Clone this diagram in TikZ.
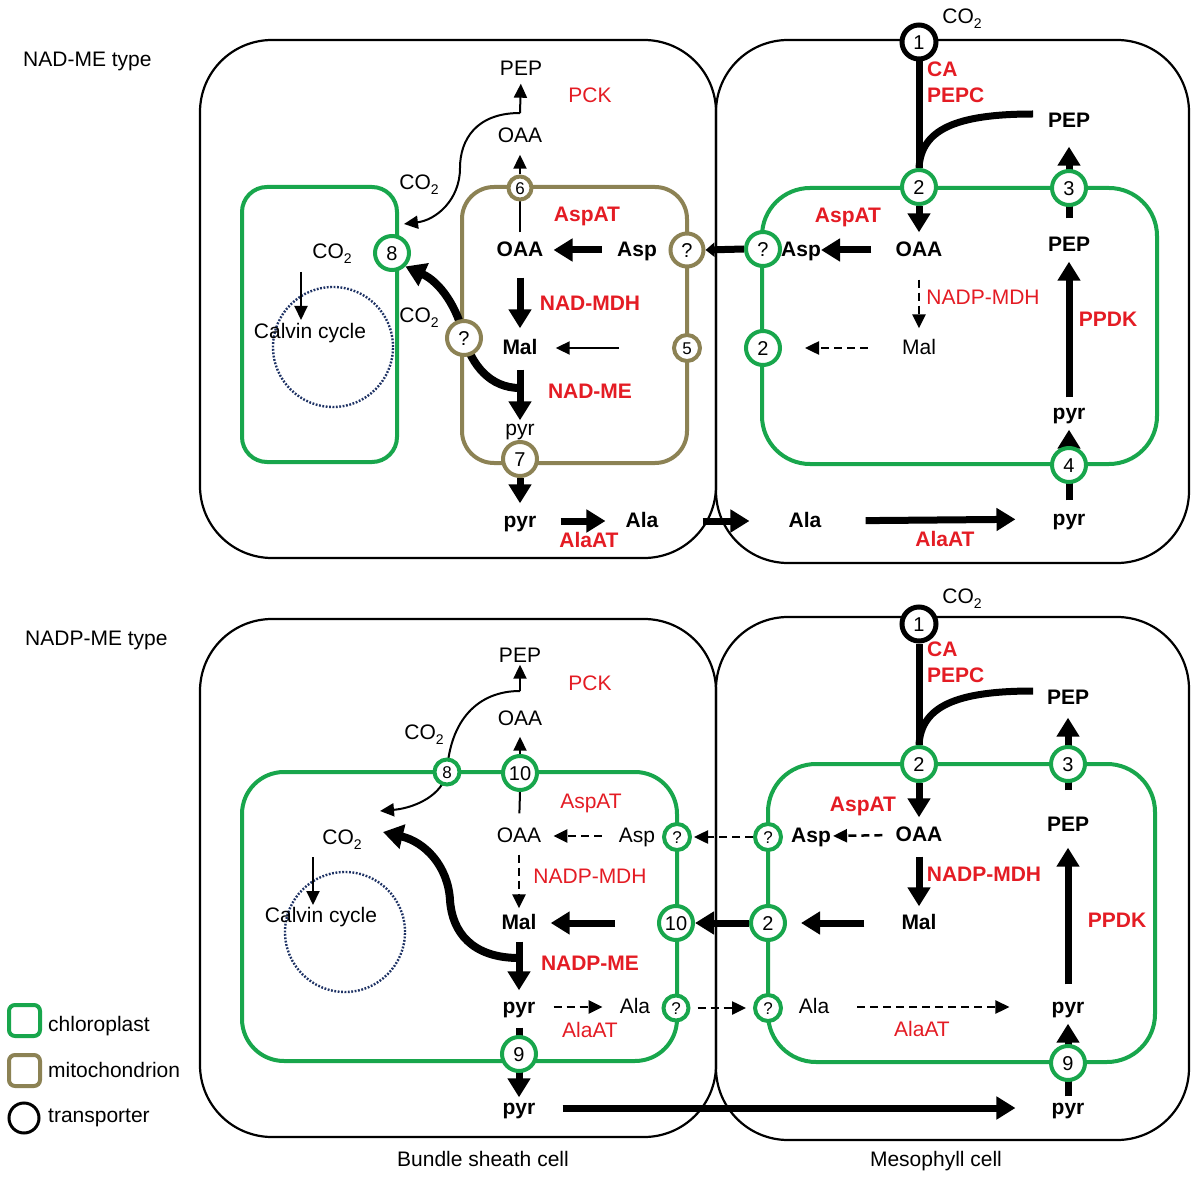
\documentclass[tikz,border=0pt]{standalone}
\usepackage{fontspec}
\setmainfont{Liberation Sans}
\usetikzlibrary{arrows.meta}
\pgfdeclarelayer{bg}
\pgfsetlayers{bg,main}
\definecolor{cgreen}{RGB}{24,166,76}
\definecolor{colive}{RGB}{140,130,84}
\definecolor{cred}{RGB}{228,28,36}
\definecolor{cnavy}{RGB}{30,50,100}
\newcommand{\cotwo}{CO\raisebox{-0.45ex}{\fontsize{14}{14}\selectfont 2}}
\begin{document}
\begin{tikzpicture}[x=1pt,y=-1pt,
  txt/.style={font=\fontsize{21}{24}\selectfont, inner sep=0pt, text height=15pt, text depth=2pt},
  bt/.style={txt, font=\fontsize{21}{24}\selectfont\bfseries},
  rb/.style={bt, text=cred},
  rn/.style={txt, text=cred},
  tr/.style={circle, fill=white, inner sep=0pt, line width=4pt, font=\fontsize{20}{20}\selectfont, text height=14.3pt, text depth=0pt, minimum size=34pt},
  trs/.style={font=\fontsize{17}{17}\selectfont, text height=12.2pt},
  tg/.style={tr, draw=cgreen},
  tol/.style={tr, draw=colive},
  tbk/.style={tr, draw=black, line width=5pt},
  cellb/.style={draw=black, line width=2.2pt, rounded corners=72pt},
  chl/.style={draw=cgreen, line width=4pt},
  mito/.style={draw=colive, line width=4pt},
  calvin/.style={draw=cnavy, line width=2.4pt, dash pattern=on 1.8pt off 1.6pt},
  tk/.style={line width=7pt, -{Triangle[length=19pt,width=22pt]}},
  tkc/.style={line width=8pt, -{Triangle[length=20pt,width=24pt]}},
  thn/.style={line width=2pt, -{Triangle[length=14pt,width=13pt]}},
  dsh/.style={line width=2.5pt, dash pattern=on 8pt off 5pt, -{Triangle[length=14pt,width=13pt]}},
  bar/.style={line width=7pt},
]
\useasboundingbox (0,0) rectangle (1200,1182);
% ---------------- transporters (top) ----------------
\node[tg] (a8) at (392,253) {8};
\node[tol, trs, minimum size=23pt] (a6) at (520,188) {6};
\node[tol, minimum size=33pt] (aq1) at (687,250) {?};
\node[tol, trs, minimum size=26pt] (a5) at (687,348) {5};
\node[tol] (a7) at (520,459) {7};
\node[tol] (aq2) at (464,338) {?};
\node[tbk] (a1) at (919,42) {1};
\node[tg] (a2) at (919,187) {2};
\node[tg] (a3) at (1069,188) {3};
\node[tg] (aq3) at (763,249) {?};
\node[tg] (a2L) at (763,348) {2};
\node[tg] (a4) at (1069,465) {4};
% ---------------- transporters (bottom) ----------------
\node[tg, trs, minimum size=25pt] (a8b) at (447,772) {8};
\node[tg] (a10t) at (520,773) {10};
\node[tg, trs, minimum size=26pt] (aqBa) at (677,837) {?};
\node[tg] (a10r) at (676,923) {10};
\node[tg, trs, minimum size=25pt] (aqBb) at (676,1008) {?};
\node[tg] (a9b) at (519,1054) {9};
\node[tbk] (a1b) at (919,624) {1};
\node[tg] (a2m2) at (919,764) {2};
\node[tg] (a3b) at (1068,764) {3};
\node[tg, trs, minimum size=26pt] (aqMa) at (768,837) {?};
\node[tg] (a2m3) at (768,923) {2};
\node[tg, trs, minimum size=26pt] (aqMb) at (768,1008) {?};
\node[tg] (a9m) at (1068,1063) {9};
% ---------------- texts (top) ----------------
\node[txt, anchor=west] (ttl1) at (23,60) {NAD-ME type};
\node[txt] (co2a) at (332,252) {\cotwo};
\node[txt] (calv1) at (310,332) {Calvin cycle};
\node[txt] (co2b) at (419,183) {\cotwo};
\node[txt] (co2c) at (419,316) {\cotwo};
\node[txt] (pepT) at (521,69) {PEP};
\node[rn] (pck1) at (590,96) {PCK};
\node[txt] (oaaT) at (520,136) {OAA};
\node[rb] (aspat1) at (587,215) {AspAT};
\node[bt] (oaaB) at (520,250) {OAA};
\node[bt] (aspB) at (637,250) {Asp};
\node[rb] (nadmdh) at (590,304) {NAD-MDH};
\node[bt] (malB) at (520,348) {Mal};
\node[rb] (nadme) at (590,392) {NAD-ME};
\node[txt] (pyrI) at (520,429) {pyr};
\node[bt] (pyrO) at (520,521) {pyr};
\node[bt] (alaBS) at (642,521) {Ala};
\node[rb] (alaat1) at (589,541) {AlaAT};
\node[txt] (co2d) at (962,17) {\cotwo};
\node[rb, anchor=west] (ca1) at (927,70) {CA};
\node[rb, anchor=west] (pepc1) at (927,96) {PEPC};
\node[bt] (pepM1) at (1069,121) {PEP};
\node[rb] (aspat2) at (848,216) {AspAT};
\node[bt] (oaaM) at (919,250) {OAA};
\node[bt] (aspM) at (801,250) {Asp};
\node[bt] (pepM2) at (1069,245) {PEP};
\node[rn] (nadpmdh1) at (983,298) {NADP-MDH};
\node[txt] (malM) at (919,348) {Mal};
\node[rb] (ppdk1) at (1108,320) {PPDK};
\node[bt] (pyrM1) at (1069,413) {pyr};
\node[bt] (pyrM2) at (1069,519) {pyr};
\node[bt] (alaMS) at (805,521) {Ala};
\node[rb] (alaat2) at (945,540) {AlaAT};
% ---------------- texts (bottom) ----------------
\node[txt, anchor=west] (ttl2) at (25,639) {NADP-ME type};
\node[txt] (pepB2) at (520,656) {PEP};
\node[rn] (pck2) at (590,684) {PCK};
\node[txt] (co2e) at (424,733) {\cotwo};
\node[txt] (oaaT2) at (520,719) {OAA};
\node[rn] (aspat3) at (591,802) {AspAT};
\node[txt] (co2f) at (342,838) {\cotwo};
\node[txt] (oaaB2) at (519,836) {OAA};
\node[txt] (aspB2) at (637,836) {Asp};
\node[rn] (nadpmdh2) at (590,877) {NADP-MDH};
\node[txt] (calv2) at (321,916) {Calvin cycle};
\node[bt] (malB2) at (519,923) {Mal};
\node[rb] (nadpme) at (590,964) {NADP-ME};
\node[bt] (pyrB) at (519,1007) {pyr};
\node[txt] (alaB2) at (635,1007) {Ala};
\node[rn] (alaat3) at (590,1031) {AlaAT};
\node[bt] (pyrB3) at (519,1108) {pyr};
\node[txt] (bslab) at (483,1160) {Bundle sheath cell};
\node[txt] (co2g) at (962,597) {\cotwo};
\node[rb, anchor=west] (ca2) at (927,650) {CA};
\node[rb, anchor=west] (pepc2) at (927,676) {PEPC};
\node[bt] (pepM3) at (1068,698) {PEP};
\node[rb] (aspat4) at (863,805) {AspAT};
\node[bt] (oaaM2) at (919,835) {OAA};
\node[bt] (aspM2) at (811,836) {Asp};
\node[bt] (pepM4) at (1068,825) {PEP};
\node[rb] (nadpmdh3) at (984,875) {NADP-MDH};
\node[bt] (malM2) at (919,923) {Mal};
\node[rb] (ppdk2) at (1117,921) {PPDK};
\node[txt] (alaM2) at (814,1007) {Ala};
\node[bt] (pyrM3) at (1068,1007) {pyr};
\node[rn] (alaat4) at (922,1030) {AlaAT};
\node[bt] (pyrM4) at (1068,1108) {pyr};
\node[txt] (mslab) at (936,1160) {Mesophyll cell};
% ---------------- legend ----------------
\node[txt, anchor=west] (lg1) at (48,1025) {chloroplast};
\node[txt, anchor=west] (lg2) at (48,1071) {mitochondrion};
\node[txt, anchor=west] (lg3) at (48,1116) {transporter};
\node[circle, draw=black, line width=3pt, minimum size=30pt, inner sep=0pt] (lg3c) at (24,1118) {};

\begin{pgfonlayer}{bg}
\fill[white] (0,0) rectangle (1200,1182);
% cells
\draw[cellb] (200,40) rectangle (716,558);
\draw[cellb] (716,40) rectangle (1189,563);
\draw[cellb] (200,619) rectangle (716,1137);
\draw[cellb] (716,617) rectangle (1189,1140);
% organelles
\draw[chl, rounded corners=25pt] (242,187) rectangle (397,462);
\draw[mito, rounded corners=32pt] (462,187) rectangle (687,463);
\draw[chl, rounded corners=48pt] (762,188) rectangle (1157,464);
\draw[calvin] (333,347) circle[radius=60pt];
\draw[chl, rounded corners=42pt] (242,772) rectangle (677,1061);
\draw[chl, rounded corners=48pt] (768,764) rectangle (1155,1062);
\draw[calvin] (345,932) circle[radius=60pt];
% legend glyphs
\draw[chl, rounded corners=6pt] (9,1005) rectangle (40,1036);
\draw[mito, rounded corners=6pt] (9,1055) rectangle (40,1086);

% ---- top BS connectors ----
\coordinate (jT) at (520,113);
\coordinate (ctip1) at (404,224);
\coordinate (ca0a) at (301,272);
\coordinate (ca0b) at (301,320);
\draw[thn] (ca0a) -- (ca0b);
\draw[thn, shorten >=6pt] (jT) -- (pepT.south);
\draw[thn] (jT) .. controls (476,113) and (460,140) .. (460,168) .. controls (460,200) and (436,220) .. (ctip1);
\draw[thn, shorten >=10pt] (a6.north) -- (oaaT.south);
\draw[line width=2pt, shorten <=9pt] (oaaB.north) -- (a6.south);
\draw[tk, shorten <=15pt, shorten >=10pt] (aspB.west) -- (oaaB.east);
\draw[tk, shorten <=19pt, shorten >=11pt] (oaaB.south) -- (malB.north);
\draw[thn, shorten <=53pt, shorten >=18pt] (a5.west) -- (malB.east);
\draw[tk, shorten <=13pt] (malB.south) -- (pyrI.north);
\coordinate (jM) at (520,388);
\draw[tkc] (jM) .. controls (490,388) and (472,365) .. (aq2.center) .. controls (458,308) and (440,282) .. (a8.south east);
\draw[tk, shorten >=9pt] (a7.south) -- (pyrO.north);
\draw[tk, shorten <=24pt, shorten >=20pt] (pyrO.east) -- (alaBS.west);
\draw[tk, shorten <=44pt, shorten >=39pt] (alaBS.east) -- (alaMS.west);
% ---- top MS connectors ----
\draw[bar] (a1) -- (a2);
\coordinate (pc1) at (1033,114);
\draw[bar] (pc1) .. controls (955,114) and (921,130) .. (a2.north);
\draw[tk, shorten >=9pt] (a2.south) -- (oaaM.north);
\draw[tk, shorten <=24pt] (oaaM.west) -- (aspM.east);
\draw[bar, -{Triangle[length=9pt,width=14pt]}] (aq3.west) -- (aq1.east);
\draw[dsh, shorten <=21pt, shorten >=11pt] (oaaM.south) -- (malM.north);
\draw[dsh, shorten <=34pt, shorten >=23pt] (malM.west) -- (a2L.east);
\draw[tk, shorten <=18pt, shorten >=17pt] (pepM2.north) -- (pepM1.south);
\draw[tk, shorten <=7pt, shorten >=8pt] (pyrM1.north) -- (pepM2.south);
\draw[tk, shorten <=10pt, shorten >=8pt] (pyrM2.north) -- (pyrM1.south);
\draw[tk, shorten <=44pt, shorten >=37pt] (alaMS.east) -- (pyrM2.west);
% ---- bottom BS connectors ----
\coordinate (jB) at (520,691);
\coordinate (ctip2) at (380,811);
\draw[thn] (jB) -- (pepB2.south);
\draw[thn] (jB) .. controls (478,691) and (450,720) .. (a8b.center) .. controls (443,795) and (415,808) .. (ctip2);
\draw[thn, shorten >=9pt] (a10t.north) -- (oaaT2.south);
\draw[line width=2pt, shorten <=14pt] (oaaB2.north) -- (a10t.south);
\draw[dsh, shorten <=17pt, shorten >=12pt] (aspB2.west) -- (oaaB2.east);
\draw[dsh, shorten >=2pt] (aqMa.west) -- (aqBa.east);
\draw[dsh, shorten <=10pt, shorten >=6pt] (oaaB2.south) -- (malB2.north);
\draw[tk, shorten <=42pt, shorten >=14pt] (a10r.west) -- (malB2.east);
\draw[tk] (a2m3.west) -- (a10r.east);
\coordinate (jB2) at (519,958);
\coordinate (ctip3) at (383,832);
\draw[tkc] (jB2) .. controls (472,958) and (452,932) .. (450,900) .. controls (448,866) and (425,842) .. (ctip3);
\coordinate (cb1) at (313,857);
\coordinate (cb2) at (313,905);
\draw[thn] (cb1) -- (cb2);
\draw[tk, shorten <=10pt, shorten >=8pt] (malB2.south) -- (pyrB.north);
\draw[dsh, shorten <=18pt, shorten >=17pt] (pyrB.east) -- (alaB2.west);
\draw[dsh, shorten <=7pt, shorten >=7pt] (aqBb.east) -- (aqMb.west);
\draw[tk, shorten <=12pt, shorten >=2pt] (pyrB.south) -- (pyrB3.north);
\draw[tk, shorten <=27pt, shorten >=36pt] (pyrB3.east) -- (pyrM4.west);
% ---- bottom MS connectors ----
\draw[bar] (a1b) -- (a2m2);
\coordinate (pc2) at (1033,691);
\draw[bar] (pc2) .. controls (955,691) and (921,707) .. (a2m2.north);
\draw[tk, shorten <=26pt, shorten >=11pt] (pepM4.north) -- (pepM3.south);
\draw[tk, shorten >=9pt] (a2m2.south) -- (oaaM2.north);
\draw[dsh, shorten <=13pt, shorten >=2pt] (oaaM2.west) -- (aspM2.east);
\draw[tk, shorten <=13pt, shorten >=8pt] (oaaM2.south) -- (malM2.north);
\draw[tk, shorten <=37pt, shorten >=14pt] (malM2.west) -- (a2m3.east);
\draw[tk, shorten <=14pt, shorten >=14pt] (pyrM3.north) -- (pepM4.south);
\draw[dsh, shorten <=28pt, shorten >=42pt] (alaM2.east) -- (pyrM3.west);
\draw[tk, shorten <=3pt, shorten >=8pt] (pyrM4.north) -- (pyrM3.south);
\end{pgfonlayer}
\end{tikzpicture}
\end{document}
